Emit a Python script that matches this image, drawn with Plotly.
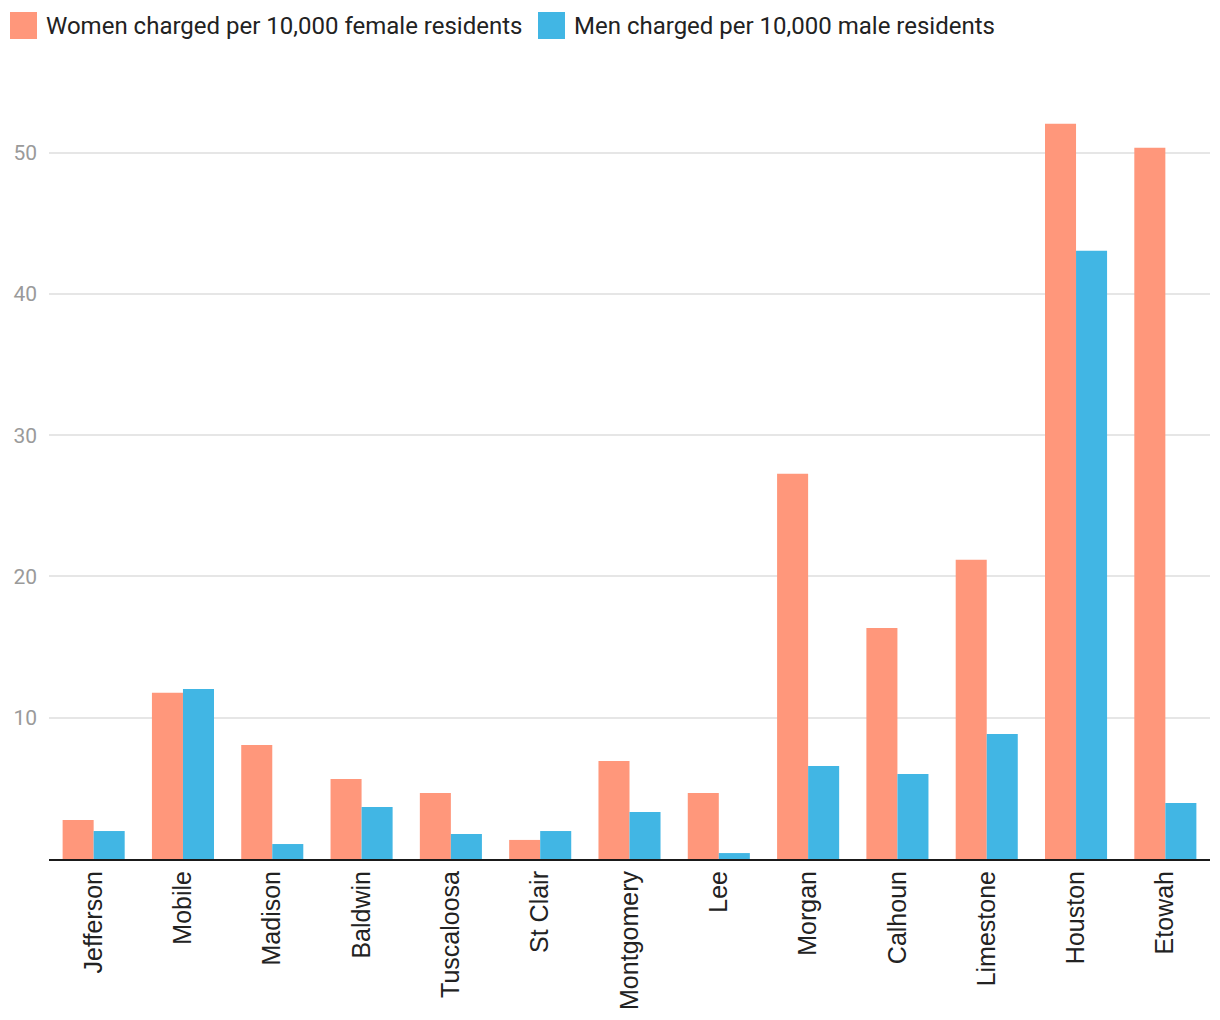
import plotly.graph_objects as go

counties = ["Jefferson", "Mobile", "Madison", "Baldwin", "Tuscaloosa", "St Clair",
            "Montgomery", "Lee", "Morgan", "Calhoun", "Limestone", "Houston", "Etowah"]
women = [2.76, 11.76, 8.07, 5.67, 4.67, 1.35, 6.94, 4.67, 27.27, 16.36, 21.18, 52.05, 50.35]
men = [1.98, 12.04, 1.06, 3.68, 1.77, 1.98, 3.33, 0.42, 6.59, 6.02, 8.85, 43.06, 3.97]
series_names = ["Women charged per 10,000 female residents", "Men charged per 10,000 male residents"]
colors = ["#FF977B", "#41B6E4"]
y_ticks = [10, 20, 30, 40, 50]

OFF = 8  # page body margin
W, H = 1220 - OFF, 1020 - OFF
ml, mr, mt, mb = 49 - OFF, 10, 82 - OFF, 161
pw, ph = W - ml - mr, H - mt - mb

fig = go.Figure()
fig.add_trace(go.Bar(x=counties, y=women, name=series_names[0], marker_color=colors[0],
                     marker_line_width=0, showlegend=False))
fig.add_trace(go.Bar(x=counties, y=men, name=series_names[1], marker_color=colors[1],
                     marker_line_width=0, showlegend=False))

# custom legend (large square swatches), positions given in screen pixels
def px2x(px):
    return (px - OFF - ml) / pw

def py2y(py):
    return (H - mb - (py - OFF)) / ph

legend_items = [(10, series_names[0], colors[0]), (538, series_names[1], colors[1])]
for x0, label, col in legend_items:
    fig.add_shape(type="rect", xref="paper", yref="paper",
                  x0=px2x(x0), x1=px2x(x0 + 27), y0=py2y(39), y1=py2y(12),
                  fillcolor=col, line_width=0)
    fig.add_annotation(xref="paper", yref="paper", x=px2x(x0 + 34), y=py2y(25.5),
                       xanchor="left", yanchor="middle", text=label, showarrow=False,
                       font=dict(family="Roboto", size=24, color="#222222"))

fig.update_layout(
    width=W, height=H,
    margin=dict(l=ml, r=mr, t=mt, b=mb, autoexpand=False),
    paper_bgcolor="white", plot_bgcolor="white",
    barmode="group", bargap=0.305, bargroupgap=0,
    showlegend=False,
    xaxis=dict(tickangle=-90, tickfont=dict(family="Liberation Sans", size=25, color="#222222"),
               showline=True, linecolor="#1a1a1a", linewidth=2, ticks="", showgrid=False,
               automargin=False),
    yaxis=dict(range=[0, 55], tickvals=y_ticks, showgrid=True, gridcolor="#e6e6e6", gridwidth=2,
               zeroline=False, ticks="", ticklabelstandoff=11, automargin=False,
               tickfont=dict(family="Roboto", size=21, color="#9a9a9a")),
)

fig.write_html("out.html")
